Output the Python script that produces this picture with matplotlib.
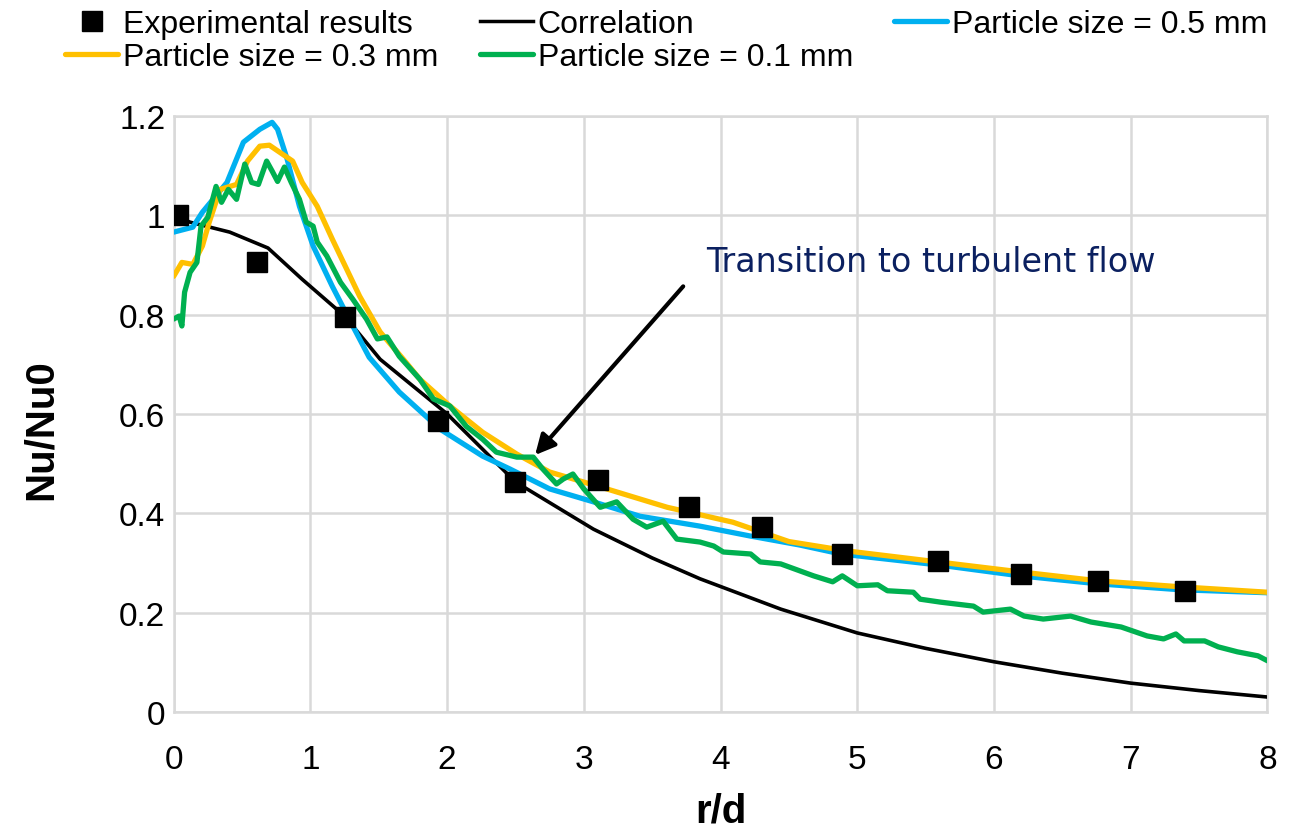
import matplotlib
matplotlib.use('Agg')
import matplotlib.pyplot as plt
from matplotlib.lines import Line2D

plt.rcParams['font.family'] = ['Liberation Sans', 'DejaVu Sans']

# experimental points
exp_x = [0.03, 0.61, 1.25, 1.93, 2.50, 3.10, 3.77, 4.30, 4.89, 5.59, 6.20, 6.76, 7.40]
exp_y = [1.000, 0.905, 0.795, 0.585, 0.463, 0.467, 0.412, 0.372, 0.318, 0.304, 0.278, 0.264, 0.243]

# correlation
corr_x = [0.0, 0.12, 0.41, 0.69, 0.94, 1.25, 1.51, 2.0, 2.5, 3.07, 3.5, 3.85, 4.44, 5.0, 5.5, 6.0, 6.5, 7.0, 7.5, 8.0]
corr_y = [1.0, 0.986, 0.966, 0.934, 0.871, 0.797, 0.710, 0.600, 0.463, 0.368, 0.310, 0.268, 0.207, 0.159, 0.128, 0.101, 0.078, 0.058, 0.043, 0.030]

# particle size = 0.5 mm
p05_x = [0.0, 0.14, 0.21, 0.39, 0.51, 0.63, 0.72, 0.76, 0.83, 0.92, 1.02, 1.16, 1.31, 1.43, 1.65,
         1.95, 2.26, 2.46, 2.75, 3.07, 3.41, 3.85, 4.22, 4.58, 4.88, 5.59, 6.19, 6.76, 7.36, 8.0]
p05_y = [0.966, 0.976, 1.006, 1.066, 1.147, 1.173, 1.187, 1.173, 1.113, 1.018, 0.938, 0.857, 0.777, 0.714, 0.644,
         0.569, 0.515, 0.489, 0.449, 0.423, 0.394, 0.374, 0.354, 0.336, 0.318, 0.296, 0.274, 0.258, 0.246, 0.240]

# particle size = 0.3 mm
p03_x = [0.0, 0.06, 0.14, 0.21, 0.26, 0.34, 0.46, 0.54, 0.63, 0.70, 0.87, 0.94, 1.05, 1.16, 1.36, 1.51,
         1.68, 1.80, 2.02, 2.26, 2.51, 2.75, 3.12, 3.61, 4.09, 4.50, 4.93, 5.59, 6.19, 6.76, 7.36, 8.0]
p03_y = [0.877, 0.905, 0.901, 0.938, 0.986, 1.052, 1.062, 1.109, 1.139, 1.141, 1.109, 1.066, 1.018, 0.952, 0.837, 0.765,
         0.710, 0.670, 0.616, 0.563, 0.519, 0.483, 0.453, 0.412, 0.382, 0.343, 0.324, 0.302, 0.282, 0.264, 0.252, 0.241]

# particle size = 0.1 mm
p01_x = [0.0, 0.04, 0.06, 0.08, 0.12, 0.17, 0.20, 0.25, 0.31, 0.35, 0.40, 0.46, 0.52, 0.57, 0.62, 0.68,
         0.72, 0.76, 0.81, 0.86, 0.92, 0.97, 1.02, 1.05, 1.12, 1.22, 1.31, 1.41, 1.49, 1.56, 1.65, 1.80,
         1.90, 2.02, 2.14, 2.26, 2.36, 2.51, 2.63, 2.70, 2.80, 2.85, 2.92, 3.00, 3.12, 3.24, 3.36, 3.46,
         3.58, 3.68, 3.85, 3.95, 4.02, 4.22, 4.29, 4.44, 4.68, 4.82, 4.89, 5.00, 5.15, 5.22, 5.41, 5.46,
         5.61, 5.85, 5.92, 6.12, 6.22, 6.36, 6.56, 6.71, 6.93, 7.12, 7.24, 7.33, 7.39, 7.54, 7.64, 7.78,
         7.93, 8.0]
p01_y = [0.791, 0.797, 0.777, 0.845, 0.885, 0.905, 0.978, 0.996, 1.058, 1.026, 1.052, 1.032, 1.103, 1.066, 1.062, 1.109,
         1.089, 1.068, 1.097, 1.066, 1.032, 0.986, 0.978, 0.946, 0.918, 0.865, 0.831, 0.791, 0.751, 0.755, 0.716, 0.670,
         0.630, 0.616, 0.575, 0.549, 0.523, 0.513, 0.513, 0.489, 0.459, 0.469, 0.479, 0.449, 0.412, 0.423, 0.388, 0.372,
         0.384, 0.348, 0.342, 0.334, 0.322, 0.318, 0.302, 0.298, 0.274, 0.262, 0.274, 0.254, 0.256, 0.244, 0.241, 0.227,
         0.221, 0.213, 0.201, 0.207, 0.193, 0.187, 0.193, 0.181, 0.171, 0.153, 0.147, 0.157, 0.143, 0.143, 0.131, 0.121,
         0.113, 0.103]

fig = plt.figure(figsize=(12.96, 8.29), dpi=100)
ax = fig.add_axes([0.134, 0.140, 0.844, 0.719])

grid_c = '#D9D9D9'
ax.plot(corr_x, corr_y, color='black', lw=2.6, zorder=3, solid_capstyle='round')
ax.plot(p05_x, p05_y, color='#00B0F0', lw=3.8, zorder=4, solid_capstyle='round')
ax.plot(p03_x, p03_y, color='#FFC000', lw=3.8, zorder=4, solid_capstyle='round')
ax.plot(p01_x, p01_y, color='#00B050', lw=3.8, zorder=5, solid_capstyle='round')
ax.plot(exp_x, exp_y, 's', color='black', ms=14.5, zorder=6)

ax.set_xlim(0, 8)
ax.set_ylim(0, 1.2)
ax.set_xticks(range(0, 9))
ax.set_yticks([0, 0.2, 0.4, 0.6, 0.8, 1.0, 1.2])
ax.set_yticklabels(['0', '0.2', '0.4', '0.6', '0.8', '1', '1.2'])
ax.tick_params(length=0, labelsize=24)
ax.tick_params(axis='x', pad=23)
ax.tick_params(axis='y', pad=6)
ax.grid(True, color=grid_c, lw=1.8, zorder=0)
ax.set_axisbelow(True)
for s in ax.spines.values():
    s.set_color(grid_c)
    s.set_linewidth(1.8)

ax.set_xlabel('r/d', fontsize=29, fontweight='bold', labelpad=12)
ax.set_ylabel('Nu/Nu0', fontsize=29, fontweight='bold')
ax.yaxis.set_label_coords(-0.104, 0.475)

ax.annotate('', xy=(2.63, 0.513), xytext=(3.74, 0.861),
            arrowprops=dict(arrowstyle='-|>', color='black', lw=3, mutation_scale=30), zorder=7)
ax.text(3.895, 0.907, 'Transition to turbulent flow', fontsize=24, color='#0B2060',
        family=['DejaVu Sans'], va='center', ha='left', zorder=7)

handles = [
    Line2D([], [], ls='none', marker='s', color='black', ms=14),
    Line2D([], [], color='#FFC000', lw=3.8, solid_capstyle='round'),
    Line2D([], [], color='black', lw=2.5),
    Line2D([], [], color='#00B050', lw=3.8, solid_capstyle='round'),
    Line2D([], [], color='#00B0F0', lw=3.8, solid_capstyle='round'),
]
labels = ['Experimental results', 'Particle size = 0.3 mm', 'Correlation',
          'Particle size = 0.1 mm', 'Particle size = 0.5 mm']
fig.legend(handles, labels, ncol=3, loc='upper left', bbox_to_anchor=(65 / 1296, 1 - 10 / 829),
           frameon=False, fontsize=23, handlelength=1.66, handletextpad=0.15,
           columnspacing=1.3, labelspacing=0.1, borderaxespad=0, borderpad=0)

fig.savefig('out.png', dpi=100)
